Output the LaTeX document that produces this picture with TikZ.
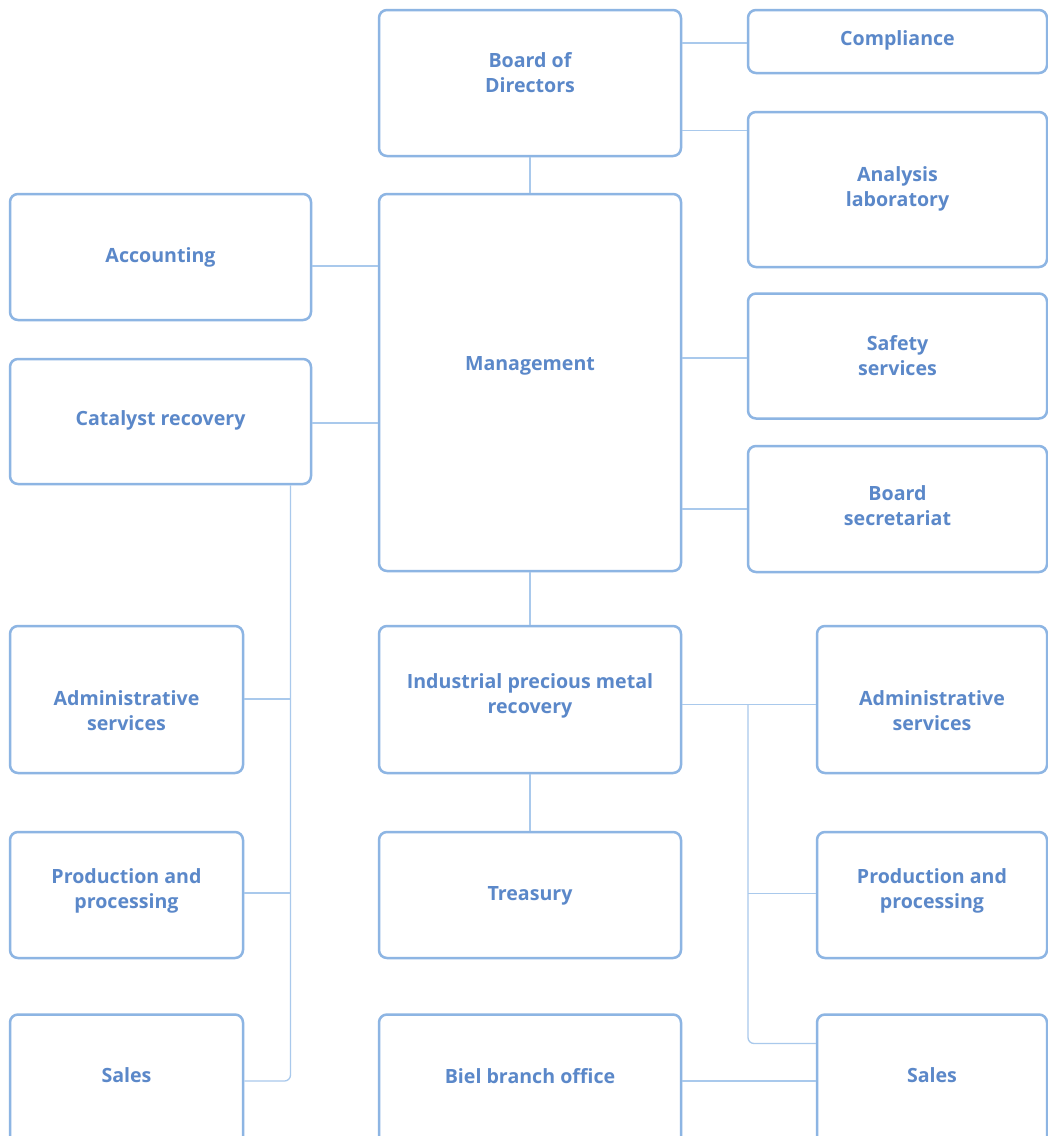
\documentclass[tikz,border=0pt]{standalone}
\usepackage{fontspec}
\setmainfont{Open Sans}
\definecolor{bordc}{HTML}{8DB5E3}
\definecolor{connc}{HTML}{A9C9EC}
\definecolor{txtc}{HTML}{5B88C9}
\begin{document}
\begin{tikzpicture}[x=1pt,y=-1pt,
  box/.style={draw=bordc, line width=2.5pt, rounded corners=8pt, fill=white, inner sep=0pt},
  lab/.style={text=txtc, font=\fontsize{19.6}{25}\selectfont\bfseries, align=center, inner sep=0pt},
  conn/.style={draw=connc, line width=1.3pt}]
\clip (0,0) rectangle (1048,1136);
\fill[white] (0,0) rectangle (1048,1136);
\coordinate (tl) at (290.5,1081);
\coordinate (tr) at (748,1043.5);
% boxes
\node[box, minimum width=302pt, minimum height=146pt, label={[lab,yshift=10.5pt]center:Board of\\Directors}] (board) at (530,83) {};
\node[box, minimum width=299pt, minimum height=63pt, label={[lab,yshift=1pt]center:Compliance}] (compl) at (897.5,41.5) {};
\node[box, minimum width=299pt, minimum height=155pt, label={[lab,yshift=1pt]center:Analysis\\laboratory}] (anal) at (897.5,189.5) {};
\node[box, minimum width=301pt, minimum height=126pt, label={[lab,yshift=0pt]center:Accounting}] (acc) at (160.5,257) {};
\node[box, minimum width=302pt, minimum height=377pt, label={[lab,yshift=17pt]center:Management}] (mgmt) at (530,382.5) {};
\node[box, minimum width=301pt, minimum height=125pt, label={[lab,yshift=1pt]center:Catalyst recovery}] (cat) at (160.5,421.5) {};
\node[box, minimum width=299pt, minimum height=125pt, label={[lab,yshift=0pt]center:Safety\\services}] (safe) at (897.5,356) {};
\node[box, minimum width=299pt, minimum height=126pt, label={[lab,yshift=3pt]center:Board\\secretariat}] (secr) at (897.5,509) {};
\node[box, minimum width=233pt, minimum height=147pt, label={[lab,yshift=-11.5pt]center:Administrative\\services}] (admL) at (126.5,699.5) {};
\node[box, minimum width=302pt, minimum height=147pt, label={[lab,yshift=4pt]center:Industrial precious metal\\recovery}] (ind) at (530,699.5) {};
\node[box, minimum width=230pt, minimum height=147pt, label={[lab,yshift=-11pt]center:Administrative\\services}] (admR) at (932,699.5) {};
\node[box, minimum width=233pt, minimum height=126pt, label={[lab,yshift=4pt]center:Production and\\processing}] (prodL) at (126.5,895) {};
\node[box, minimum width=302pt, minimum height=126pt, label={[lab,yshift=-1pt]center:Treasury}] (treas) at (530,895) {};
\node[box, minimum width=230pt, minimum height=126pt, label={[lab,yshift=4pt]center:Production and\\processing}] (prodR) at (932,895) {};
\node[box, minimum width=233pt, minimum height=147pt, label={[lab,yshift=13pt]center:Sales}] (salesL) at (126.5,1088) {};
\node[box, minimum width=302pt, minimum height=147pt, label={[lab,yshift=12pt]center:Biel branch office}] (biel) at (530,1088) {};
\node[box, minimum width=230pt, minimum height=147pt, label={[lab,yshift=13pt]center:Sales}] (salesR) at (932,1088) {};
% connectors
\draw[conn] (board.east |- 0,43) -- (compl.west |- 0,43);
\draw[conn] (board.east |- 0,130.5) -- (anal.west |- 0,130.5);
\draw[conn] (board.south) -- (mgmt.north);
\draw[conn] (acc.east |- 0,266) -- (mgmt.west |- 0,266);
\draw[conn] (cat.east |- 0,423) -- (mgmt.west |- 0,423);
\draw[conn] (mgmt.east |- 0,358) -- (safe.west |- 0,358);
\draw[conn] (mgmt.east |- 0,509) -- (secr.west |- 0,509);
\draw[conn] (mgmt.south) -- (ind.north);
\draw[conn] (ind.south) -- (treas.north);
\draw[conn, rounded corners=6pt] (cat.south -| tl) -- (tl) -- (salesL.east |- tl);
\draw[conn] (admL.east |- 0,699) -- (tl |- 0,699);
\draw[conn] (prodL.east |- 0,893) -- (tl |- 0,893);
\draw[conn] (ind.east |- 0,704.5) -- (admR.west |- 0,704.5);
\draw[conn, rounded corners=6pt] (tr |- 0,704.5) -- (tr) -- (salesR.west |- tr);
\draw[conn] (tr |- 0,893.5) -- (prodR.west |- 0,893.5);
\draw[conn] (biel.east |- 0,1081) -- (salesR.west |- 0,1081);
\end{tikzpicture}
\end{document}
